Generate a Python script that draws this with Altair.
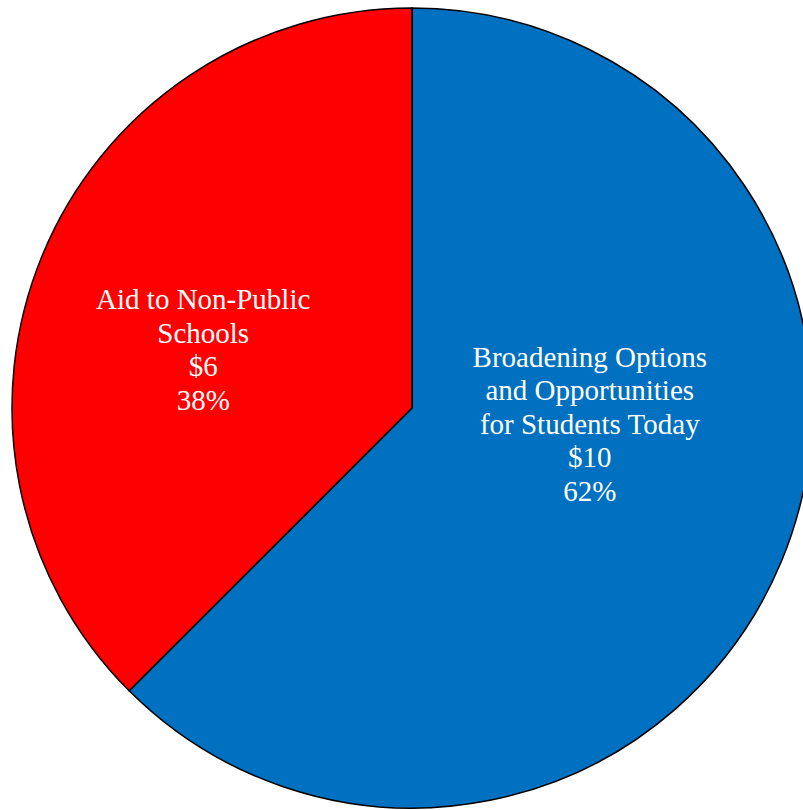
import altair as alt
import pandas as pd

# Data
names = ["Broadening Options\nand Opportunities\nfor Students Today", "Aid to Non-Public\nSchools"]
values = [10, 6]
pct_labels = ["62%", "38%"]
colors = ["#0070C0", "#FF0000"]
order = [0, 1]

df = pd.DataFrame({
    "name": names,
    "value": values,
    "pct": pct_labels,
    "idx": order,
})
df["label"] = df["name"] + "\n$" + df["value"].astype(str) + "\n" + df["pct"]

CX, CY, R = 412, 408, 400

base = alt.Chart(df).transform_joinaggregate(
    total="sum(value)"
).transform_window(
    cum="sum(value)", sort=[alt.SortField("idx")], frame=[None, 0]
).transform_calculate(
    end="datum.cum / datum.total",
    start="(datum.cum - datum.value) / datum.total",
    mid="(datum.cum - datum.value / 2) / datum.total",
)

theta_scale = alt.Scale(domain=[0, 1])

pie = base.mark_arc(radius=R, stroke="black", strokeWidth=1.5).encode(
    theta=alt.Theta("start:Q", scale=theta_scale),
    theta2="end:Q",
    color=alt.Color("name:N", scale=alt.Scale(domain=names, range=colors), legend=None),
    x=alt.value(CX),
    y=alt.value(CY),
)

def label_layer(i, dx, dy):
    return base.transform_filter(alt.datum.idx == i).mark_text(
        radius=200, font="Liberation Serif", fontSize=29, lineHeight=33.5,
        color="white", align="center", baseline="middle", lineBreak="\n",
        dx=dx, dy=dy,
    ).encode(
        theta=alt.Theta("mid:Q", scale=theta_scale),
        text="label:N",
        x=alt.value(CX),
        y=alt.value(CY),
    )

chart = alt.layer(
    pie,
    label_layer(0, -7, -127),
    label_layer(1, -24, -31),
).properties(
    width=803, height=810, autosize=alt.AutoSizeParams(type="none"), padding=0,
    background="white",
).configure_view(stroke=None)

chart.save("out.html", embed_options={"renderer": "svg", "actions": False})
